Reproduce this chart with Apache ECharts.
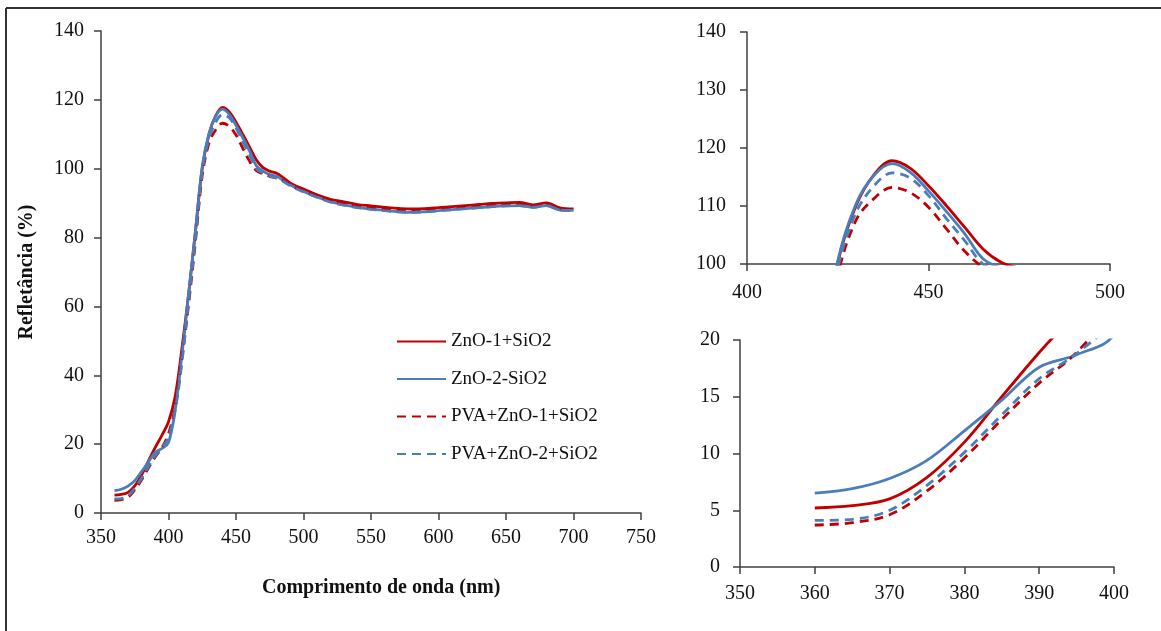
<!DOCTYPE html>
<html>
<head>
<meta charset="utf-8">
<script src="https://cdn.jsdelivr.net/npm/echarts@6/dist/echarts.min.js"></script>
<style>
html,body{margin:0;padding:0;background:#fff;}
#chart{width:1161px;height:631px;}
</style>
</head>
<body>
<div id="chart"></div>
<script>
// ---- data ----
const wavelengths = [360,365,370,375,380,385,390,395,400,405,410,415,420,425,430,435,440,445,450,455,460,465,470,475,480,485,490,495,500,
  510,520,530,540,550,560,570,580,590,600,610,620,630,640,650,660,670,680,690,700];
const zno1SiO2 = [5.2,5.4,6.0,7.9,11.0,15.0,18.9,22.5,26.5,34,48,64,82,100.2,110,115.4,117.8,116.5,113.5,110,106.3,102.6,100.3,99.3,98.7,97.4,95.9,94.9,94.1,
  92.4,91.1,90.4,89.6,89.2,88.8,88.5,88.3,88.4,88.7,89.0,89.3,89.6,89.9,90.1,90.2,89.5,90.1,88.6,88.3];
const zno2SiO2 = [6.5,6.9,7.8,9.4,12.0,14.7,17.6,18.7,20.5,30,46,64,82,100.5,110.3,115.3,117.3,115.8,112.6,109,105.2,100.9,99.3,98.3,97.8,96.6,95.3,94.3,93.4,
  91.8,90.4,89.5,88.8,88.3,87.9,87.5,87.3,87.5,87.8,88.1,88.4,88.7,89.0,89.2,89.3,88.8,89.3,88.0,87.9];
const pvaZno1SiO2 = [3.7,3.9,4.6,6.7,9.6,13.0,16.2,18.9,23,31,45,61,79,98,107.5,111.3,113.2,112.3,109.8,106,102.2,99.5,98.5,97.8,97.3,96.5,95.3,94.3,93.5,
  92.0,90.7,89.8,89.1,88.7,88.3,88.0,87.8,88.0,88.2,88.5,88.8,89.1,89.4,89.6,89.7,89.2,89.7,88.3,88.0];
const pvaZno2SiO2 = [4.1,4.2,5.0,7.2,10.1,13.4,16.6,18.8,22,30,44,62,80,99.2,108.8,113.5,115.7,114.8,111.8,107.8,104,100,98.8,97.9,97.3,96.3,95.1,94.1,93.3,
  91.7,90.3,89.4,88.7,88.2,87.8,87.5,87.3,87.5,87.8,88.1,88.4,88.7,89.0,89.2,89.3,88.8,89.3,88.0,87.9];
const seriesNames = ['ZnO-1+SiO2','ZnO-2-SiO2','PVA+ZnO-1+SiO2','PVA+ZnO-2+SiO2'];
const xTitle = 'Comprimento de onda (nm)';
const yTitle = 'Refletância (%)';

// ---- styles ----
const RED = '#C00000', BLUE = '#4A7EBB';
const FONT = '"Liberation Serif","DejaVu Serif",serif';
const AXC = '#404040';
const seriesStyle = [
  {color: RED, type: 'solid'},
  {color: BLUE, type: 'solid'},
  {color: RED, type: [9, 6]},
  {color: BLUE, type: [9, 6]}
];
const allData = [zno1SiO2, zno2SiO2, pvaZno1SiO2, pvaZno2SiO2];

function axisCommon(min, max, interval, margin) {
  return {
    type: 'value', min: min, max: max, interval: interval,
    axisLine: {show: true, lineStyle: {color: AXC, width: 1.5}},
    axisTick: {show: true, inside: false, length: 7, lineStyle: {color: AXC, width: 1.5}},
    axisLabel: {color: '#111', fontFamily: FONT, fontSize: 20, margin: margin},
    splitLine: {show: false}
  };
}

const grids = [
  {left: 101, top: 31, width: 540, height: 482},
  {left: 747, top: 32, width: 363, height: 232},
  {left: 740, top: 340, width: 374, height: 227}
];
const xAxes = [
  Object.assign(axisCommon(350, 750, 50, 15), {gridIndex: 0}),
  Object.assign(axisCommon(400, 500, 50, 19), {gridIndex: 1}),
  Object.assign(axisCommon(350, 400, 10, 17), {gridIndex: 2})
];
const yAxes = [
  Object.assign(axisCommon(0, 140, 20, 17), {gridIndex: 0, name: yTitle, nameLocation: 'middle', nameGap: 64,
    nameTextStyle: {fontFamily: FONT, fontSize: 20, fontWeight: 'bold', color: '#111'}}),
  Object.assign(axisCommon(100, 140, 10, 21), {gridIndex: 1}),
  Object.assign(axisCommon(0, 20, 5, 20), {gridIndex: 2})
];

const series = [];
for (let g = 0; g < 3; g++) {
  for (let s = 0; s < 4; s++) {
    series.push({
      name: seriesNames[s], type: 'line', xAxisIndex: g, yAxisIndex: g,
      data: wavelengths.map((w, i) => [w, allData[s][i]]),
      showSymbol: false, symbol: 'none', smooth: 0.35, clip: true,
      lineStyle: {color: seriesStyle[s].color, width: 2.8, type: seriesStyle[s].type},
      itemStyle: {color: seriesStyle[s].color},
      emphasis: {disabled: true}, animation: false
    });
  }
}

const chart = echarts.init(document.getElementById('chart'), null, {renderer: 'canvas'});
chart.setOption({
  backgroundColor: '#fff',
  animation: false,
  grid: grids,
  xAxis: xAxes,
  yAxis: yAxes,
  legend: {
    data: seriesNames, orient: 'vertical', left: 396, top: 332, padding: 0,
    itemWidth: 49, itemHeight: 14, itemGap: 18.5,
    itemStyle: {opacity: 0},
    textStyle: {fontFamily: FONT, fontSize: 19, color: '#111'},
    selectedMode: false
  },
  graphic: [
    {type: 'line', shape: {x1: 6, y1: 8, x2: 1161, y2: 8}, style: {stroke: '#333', lineWidth: 2}},
    {type: 'line', shape: {x1: 6, y1: 8, x2: 6, y2: 631}, style: {stroke: '#333', lineWidth: 2}},
    {type: 'text', left: 262, top: 578, style: {text: xTitle, font: 'bold 20px ' + FONT, fill: '#111'}}
  ],
  series: series
});
</script>
</body>
</html>
